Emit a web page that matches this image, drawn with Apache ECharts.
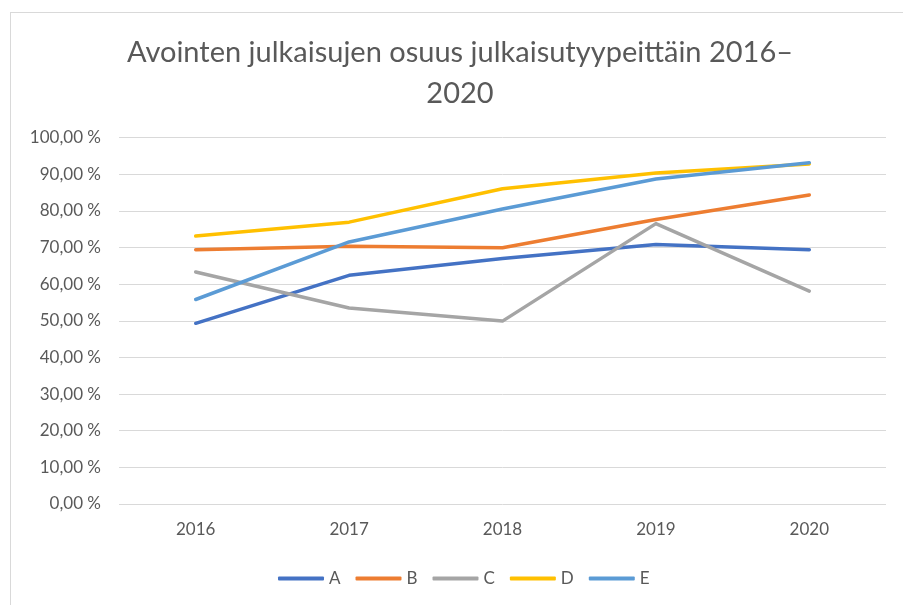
<!DOCTYPE html>
<html>
<head>
<meta charset="utf-8">
<script src="https://cdn.jsdelivr.net/npm/echarts@6/dist/echarts.min.js"></script>
<style>
html,body{margin:0;padding:0;background:#fff;}
#frame{position:absolute;left:10px;top:12px;width:893px;height:593px;border-left:1px solid #d9d9d9;border-top:1px solid #d9d9d9;box-sizing:border-box;}
#chart{position:absolute;left:0;top:0;width:903px;height:605px;}
</style>
</head>
<body>
<div id="frame"></div>
<div id="chart"></div>
<script>
const titleText = "Avointen julkaisujen osuus julkaisutyypeittäin 2016–\n2020";
const categories = ["2016", "2017", "2018", "2019", "2020"];
const seriesNames = ["A", "B", "C", "D", "E"];
const valuesA = [49.3, 62.4, 67.0, 70.8, 69.4];
const valuesB = [69.4, 70.3, 69.9, 77.6, 84.3];
const valuesC = [63.3, 53.5, 49.9, 76.5, 58.1];
const valuesD = [73.1, 76.9, 86.0, 90.3, 92.8];
const valuesE = [55.8, 71.5, 80.5, 88.7, 93.1];
const colors = ["#4472C4", "#ED7D31", "#A5A5A5", "#FFC000", "#5B9BD5"];
const allValues = [valuesA, valuesB, valuesC, valuesD, valuesE];

const chart = echarts.init(document.getElementById('chart'), null, {renderer: 'canvas'});
const fontFam = "Lato, 'Open Sans', sans-serif";
chart.setOption({
  backgroundColor: 'transparent',
  animation: false,
  title: {
    text: titleText,
    left: 455, top: 27, textAlign: 'center',
    textStyle: {fontFamily: fontFam, fontSize: 29, fontWeight: 'normal', color: '#595959', lineHeight: 41}
  },
  legend: {
    top: 565, left: 273,
    itemWidth: 46, itemHeight: 4, itemGap: 15,
    icon: 'roundRect',
    textStyle: {fontFamily: fontFam, fontSize: 17, color: '#595959'},
    data: seriesNames
  },
  grid: {left: 119, right: 17, top: 137.5, bottom: 101},
  xAxis: {
    type: 'category', data: categories, boundaryGap: true,
    axisLine: {show: false}, axisTick: {show: false},
    axisLabel: {fontFamily: fontFam, fontSize: 17, color: '#595959', margin: 17}
  },
  yAxis: {
    type: 'value', min: 0, max: 100, interval: 10,
    axisLine: {show: false}, axisTick: {show: false},
    splitLine: {lineStyle: {color: '#d9d9d9', width: 1}},
    axisLabel: {fontFamily: fontFam, fontSize: 17, color: '#595959', margin: 18,
      formatter: v => v.toFixed(2).replace('.', ',') + ' %'}
  },
  series: seriesNames.map((n, i) => ({
    name: n, type: 'line', data: allValues[i],
    showSymbol: false, symbol: 'none',
    lineStyle: {width: 3.5, color: colors[i], cap: 'round', join: 'round'},
    itemStyle: {color: colors[i]}
  }))
});
</script>
</body>
</html>
